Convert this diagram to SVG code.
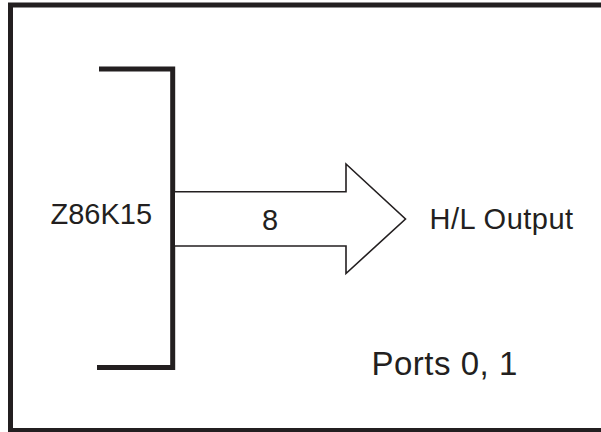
<svg xmlns="http://www.w3.org/2000/svg" width="601" height="432" viewBox="0 0 601 432">
<style>
.t{font-family:"Liberation Sans",Arial,sans-serif;fill:#231f20}
.thick{fill:none;stroke:#231f20;stroke-width:5}
.thin{fill:#fff;stroke:#231f20;stroke-width:1.6;stroke-linejoin:miter}
</style>
<rect x="0" y="0" width="601" height="432" fill="#fff"/>
<rect id="frame" x="10.5" y="5" width="600" height="425.5" class="thick"/>
<g id="chip">
<polyline points="97,367.5 172.7,367.5 172.7,69 99,69" class="thick"/>
<text x="50.5" y="224" font-size="29" class="t">Z86K15</text>
</g>
<g id="connectors">
<polyline points="175,191.7 346,191.7 346,164 405.5,219 346,273.5 346,246 175,246" class="thin"/>
<text x="270" y="229.5" font-size="29" text-anchor="middle" class="t">8</text>
</g>
<g id="output">
<text x="429.5" y="228.5" font-size="29" letter-spacing="0.5" class="t">H/L Output</text>
</g>
<g id="ports">
<text x="371.5" y="375" font-size="33" letter-spacing="0.5" class="t">Ports 0, 1</text>
</g>
</svg>
